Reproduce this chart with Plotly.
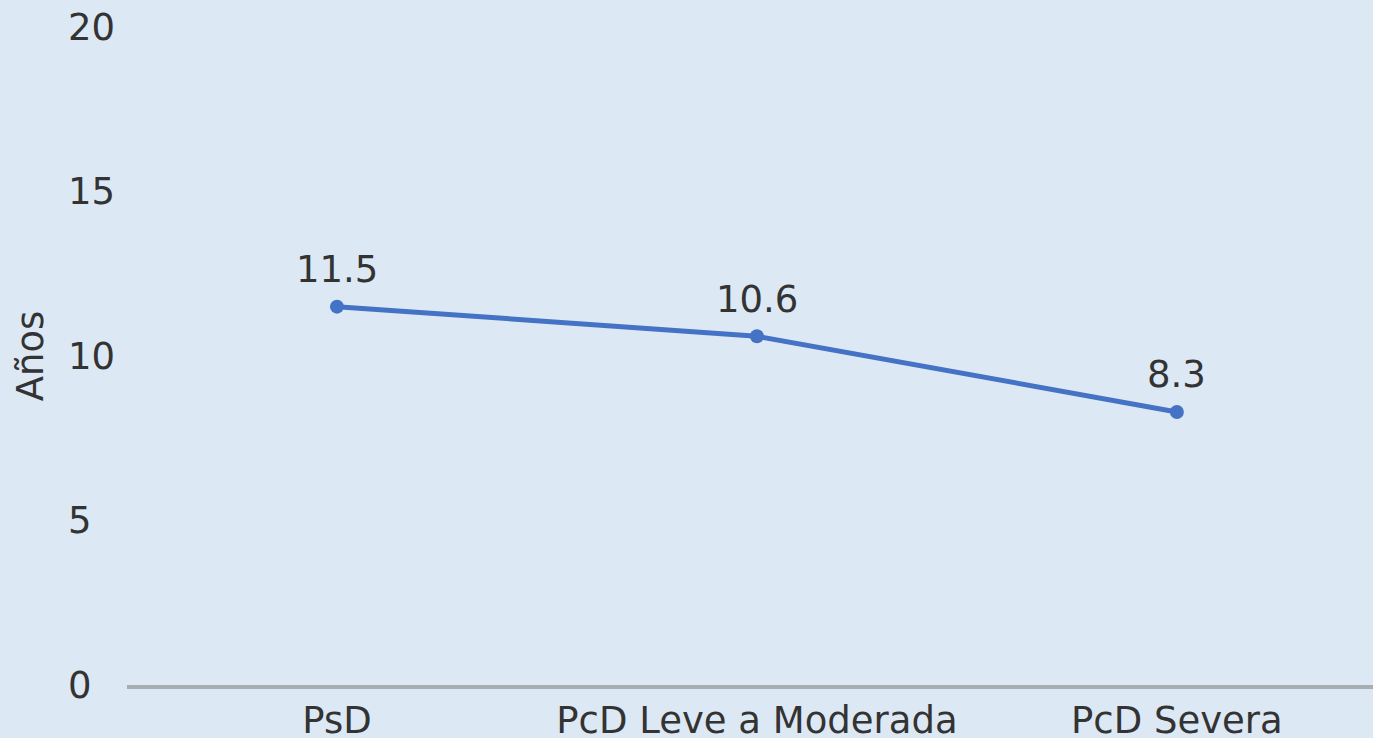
import plotly.graph_objects as go

categories = ["PsD", "PcD Leve a Moderada", "PcD Severa"]
values = [11.5, 10.6, 8.3]
labels = ["11.5", "10.6", "8.3"]
ytick_vals = [0, 5, 10, 15, 20]
ytick_text = ["0\u2007", "5\u2007", "10", "15", "20"]

BG = "#DDE8F5"
FONT = "DejaVu Sans"
TXT = "#333333"
FS = 37

fig = go.Figure()
fig.add_trace(go.Scatter(
    x=categories, y=values, mode="lines+markers",
    line=dict(color="#4472C4", width=5),
    marker=dict(color="#4472C4", size=14),
    cliponaxis=False, showlegend=False, hoverinfo="skip",
))

for c, v, t in zip(categories, values, labels):
    fig.add_annotation(
        x=c, y=v, xref="x", yref="y", text=t, showarrow=False,
        yanchor="middle", xanchor="center", yshift=37,
        font=dict(family=FONT, size=FS, color=TXT),
    )

fig.update_layout(
    width=1373, height=738,
    paper_bgcolor=BG, plot_bgcolor=BG,
    margin=dict(l=127, r=0, t=27, b=53),
    font=dict(family=FONT, size=FS, color=TXT),
    xaxis=dict(
        type="category", range=[-0.5, 2.467],
        showgrid=False, zeroline=False, automargin=False,
        showline=True, linecolor="#A6ADB3", linewidth=4,
        ticks="", ticklabelstandoff=0,
        tickfont=dict(family=FONT, size=FS, color=TXT),
    ),
    yaxis=dict(
        range=[0, 20], tickvals=ytick_vals, ticktext=ytick_text,
        showgrid=False, zeroline=False, showline=False, ticks="",
        ticklabelstandoff=11, automargin=False,
        tickfont=dict(family=FONT, size=FS, color=TXT),
        title=dict(text="Años", font=dict(family=FONT, size=FS, color=TXT), standoff=12),
    ),
)

fig.write_html(
    "out.html",
    config={"displayModeBar": False},
    post_script="document.body.style.margin='0';document.body.style.overflow='hidden';",
)
